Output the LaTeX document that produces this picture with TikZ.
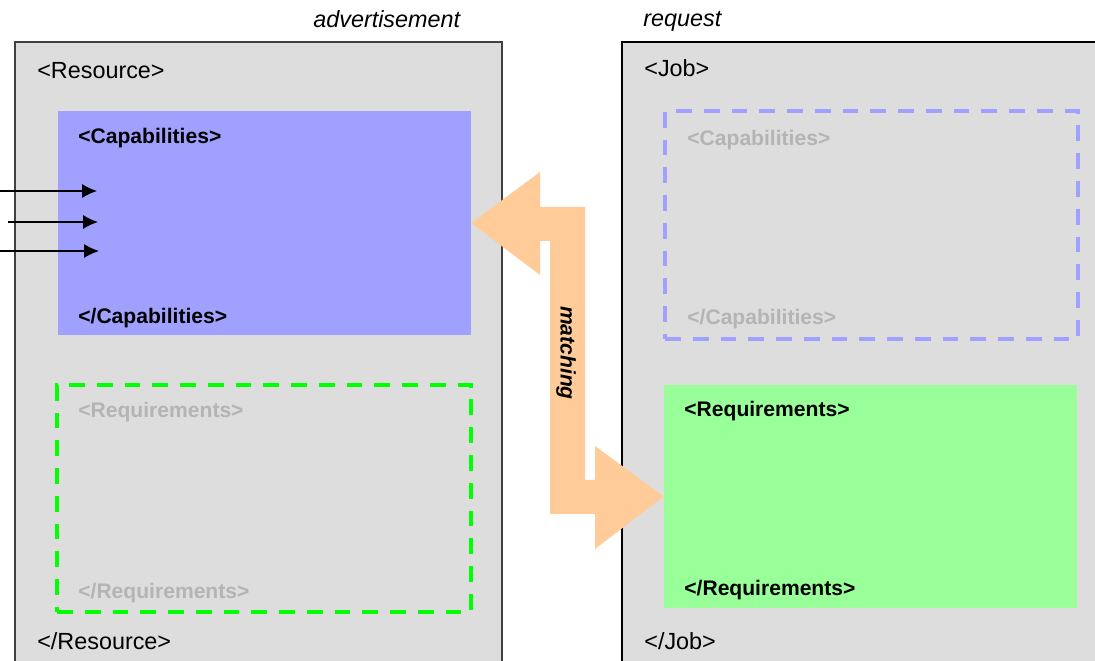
\documentclass[tikz,border=0pt]{standalone}
\usepackage{fontspec}
\setmainfont{Liberation Sans}
\usepackage{tikz}
\usetikzlibrary{arrows.meta,positioning,fit}

\definecolor{shell}{RGB}{221,221,221}
\definecolor{capblue}{RGB}{160,160,255}
\definecolor{reqgreen}{RGB}{153,255,153}
\definecolor{dashgreen}{RGB}{0,255,0}
\definecolor{ghost}{RGB}{180,180,180}
\definecolor{peach}{RGB}{255,204,153}

\begin{document}
\begin{tikzpicture}[
  >=Latex,
  x=0.02cm,y=-0.02cm,
  outer/.style={fill=shell, line width=1.1pt},
  solidbox/.style={inner sep=0pt, draw=none},
  ghostbox/.style={inner sep=0pt, line width=2.1pt, dash pattern=on 9pt off 6.8pt},
  tagtxt/.style={anchor=base west, inner sep=0pt, font=\fontsize{13.3}{16}\selectfont},
  boldtag/.style={anchor=base west, inner sep=0pt, font=\fontsize{12}{14}\selectfont\bfseries},
  ghosttag/.style={boldtag, text=ghost},
  caption/.style={anchor=base west, inner sep=0pt, font=\fontsize{13.3}{16}\selectfont\itshape},
  feed/.style={->, line width=0.8pt, -{Latex[length=8.5pt,width=8pt]}},
]

% ---------------- frame ----------------
\useasboundingbox (0,0) rectangle (1095,661);
\fill[white] (0,0) rectangle (1095,661);
\clip (0,0) rectangle (1095,661);

% ---------------- headers ----------------
\node[caption] (adv) at (313,28) {advertisement};
\node[caption] (req) at (643,27) {request};

% ---------------- Resource (advertisement) ----------------
\draw[outer, draw=black!75] (15,42) rectangle (502,700);
\node[tagtxt] (resopen)  at (37,79)  {<Resource>};
\node[tagtxt] (resclose) at (37,649) {</Resource>};

\node[solidbox, fill=capblue, fit={(58,111) (471,335)}] (capL) {};
\node[boldtag] (capLopen)  at (78,144) {<Capabilities>};
\node[boldtag] (capLclose) at (78,324) {</Capabilities>};

\node[ghostbox, draw=dashgreen, fit={(57,385) (471,612)}] (reqL) {};
\node[ghosttag] (reqLopen)  at (78,418) {<Requirements>};
\node[ghosttag] (reqLclose) at (78,599) {</Requirements>};

% ---------------- Job (request) ----------------
\draw[outer, draw=black] (622,42) rectangle (1150,700);
\node[tagtxt] (jobopen)  at (644,77)  {<Job>};
\node[tagtxt] (jobclose) at (644,649) {</Job>};

\node[ghostbox, draw=capblue, fit={(665,111) (1078,339)}] (capR) {};
\node[ghosttag] (capRopen)  at (687,146) {<Capabilities>};
\node[ghosttag] (capRclose) at (687,325) {</Capabilities>};

\node[solidbox, fill=reqgreen, fit={(664,385) (1077,608)}] (reqR) {};
\node[boldtag] (reqRopen)  at (684,417) {<Requirements>};
\node[boldtag] (reqRclose) at (684,596) {</Requirements>};

% ---------------- inputs into capabilities ----------------
\coordinate (inA) at (0,191);  \coordinate (inAe) at (97,191);
\coordinate (inB) at (8,222);  \coordinate (inBe) at (98,222);
\coordinate (inC) at (0,251);  \coordinate (inCe) at (99,251);
\draw[feed] (inA) -- (inAe);
\draw[feed] (inB) -- (inBe);
\draw[feed] (inC) -- (inCe);

% ---------------- matching arrow ----------------
\fill[peach] (capL.east) -- (540,172) -- (540,207) -- (585,207) -- (585,480)
  -- (595,480) -- (595,446) -- (reqR.west) -- (595,549) -- (595,514)
  -- (550,514) -- (550,241) -- (540,241) -- (540,275) -- cycle;
\node[rotate=-90, inner sep=0pt, font=\fontsize{12}{14}\selectfont\bfseries\itshape]
  (match) at (566,353) {matching};

\end{tikzpicture}
\end{document}
